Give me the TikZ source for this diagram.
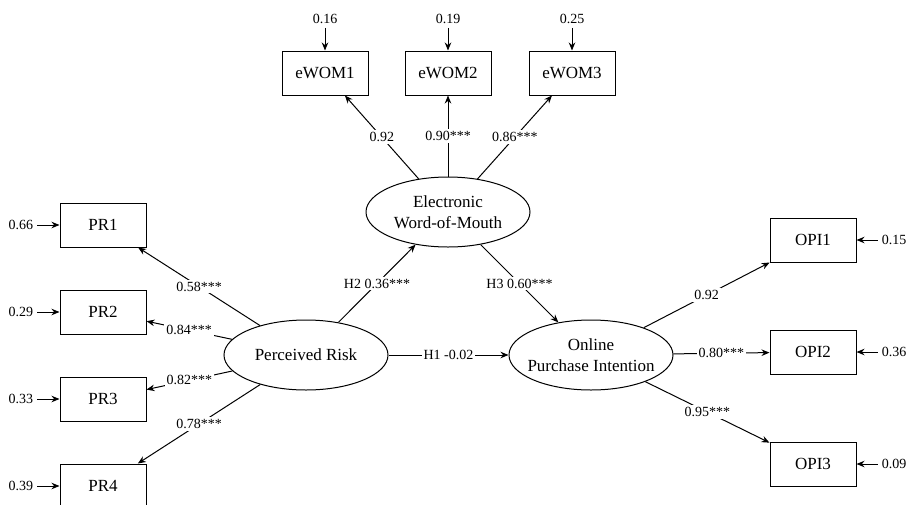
\documentclass[tikz,border=0pt]{standalone}
\usepackage{fontspec}
\setmainfont{Liberation Serif}
\usetikzlibrary{shapes.geometric,arrows.meta}
\begin{document}
\begin{tikzpicture}[x=1pt,y=-1pt]
\tikzstyle{itembox}=[draw,rectangle,line width=1pt,minimum width=86pt,minimum height=44pt,inner sep=2pt,font=\fontsize{17}{20}\selectfont]
\tikzstyle{latent}=[draw,ellipse,line width=1pt,minimum width=164pt,minimum height=70pt,inner sep=0pt,inner xsep=-8pt,align=center,font=\fontsize{17}{21}\selectfont]
\tikzstyle{errlabel}=[inner sep=4pt,font=\fontsize{14}{16}\selectfont]
\tikzstyle{coef}=[fill=white,inner sep=2pt,font=\fontsize{14}{16}\selectfont]
\tikzstyle{arrowline}=[->,>={Stealth[length=8pt,width=6.5pt]},line width=1pt]
\useasboundingbox (0,0) rectangle (908,504);
% latent constructs
\node[latent] (risk) at (306,355) {Perceived Risk};
\node[latent] (ewom) at (448,212) {Electronic\\Word-of-Mouth};
\node[latent] (opi) at (591,355) {Online\\Purchase Intention};
% indicators
\node[itembox] (PR1) at (103,225) {PR1};
\node[itembox] (PR2) at (103,312) {PR2};
\node[itembox] (PR3) at (103,399) {PR3};
\node[itembox] (PR4) at (103,486) {PR4};
\node[itembox] (eWOM1) at (325,73) {eWOM1};
\node[itembox] (eWOM2) at (448,73) {eWOM2};
\node[itembox] (eWOM3) at (572,73) {eWOM3};
\node[itembox] (OPI1) at (813,240) {OPI1};
\node[itembox] (OPI2) at (813,352) {OPI2};
\node[itembox] (OPI3) at (813,464) {OPI3};
% error terms
\node[errlabel] (ePR1) at (21,225) {0.66};
\node[errlabel] (ePR2) at (21,312) {0.29};
\node[errlabel] (ePR3) at (21,399) {0.33};
\node[errlabel] (ePR4) at (21,486) {0.39};
\node[errlabel] (eWOMe1) at (325,19) {0.16};
\node[errlabel] (eWOMe2) at (448,19) {0.19};
\node[errlabel] (eWOMe3) at (572,19) {0.25};
\node[errlabel] (eOPI1) at (894,240) {0.15};
\node[errlabel] (eOPI2) at (894,352) {0.36};
\node[errlabel] (eOPI3) at (894,464) {0.09};
\draw[arrowline] (ePR1) -- (PR1);
\draw[arrowline] (ePR2) -- (PR2);
\draw[arrowline] (ePR3) -- (PR3);
\draw[arrowline] (ePR4) -- (PR4);
\draw[arrowline] (eWOMe1) -- (eWOM1);
\draw[arrowline] (eWOMe2) -- (eWOM2);
\draw[arrowline] (eWOMe3) -- (eWOM3);
\draw[arrowline] (eOPI1) -- (OPI1);
\draw[arrowline] (eOPI2) -- (OPI2);
\draw[arrowline] (eOPI3) -- (OPI3);
% loadings
\draw[arrowline] (risk) -- node[coef] {0.58***} (PR1);
\draw[arrowline] (risk) -- node[coef] {0.84***} (PR2);
\draw[arrowline] (risk) -- node[coef] {0.82***} (PR3);
\draw[arrowline] (risk) -- node[coef] {0.78***} (PR4);
\draw[arrowline] (ewom) -- node[coef] {0.92} (eWOM1);
\draw[arrowline] (ewom) -- node[coef] {0.90***} (eWOM2);
\draw[arrowline] (ewom) -- node[coef] {0.86***} (eWOM3);
\draw[arrowline] (opi) -- node[coef] {0.92} (OPI1);
\draw[arrowline] (opi) -- node[coef] {0.80***} (OPI2);
\draw[arrowline] (opi) -- node[coef] {0.95***} (OPI3);
% hypotheses
\draw[arrowline] (risk) -- node[coef] {H1 -0.02} (opi);
\draw[arrowline] (risk) -- node[coef] {H2 0.36***} (ewom);
\draw[arrowline] (ewom) -- node[coef] {H3 0.60***} (opi);
\end{tikzpicture}
\end{document}
